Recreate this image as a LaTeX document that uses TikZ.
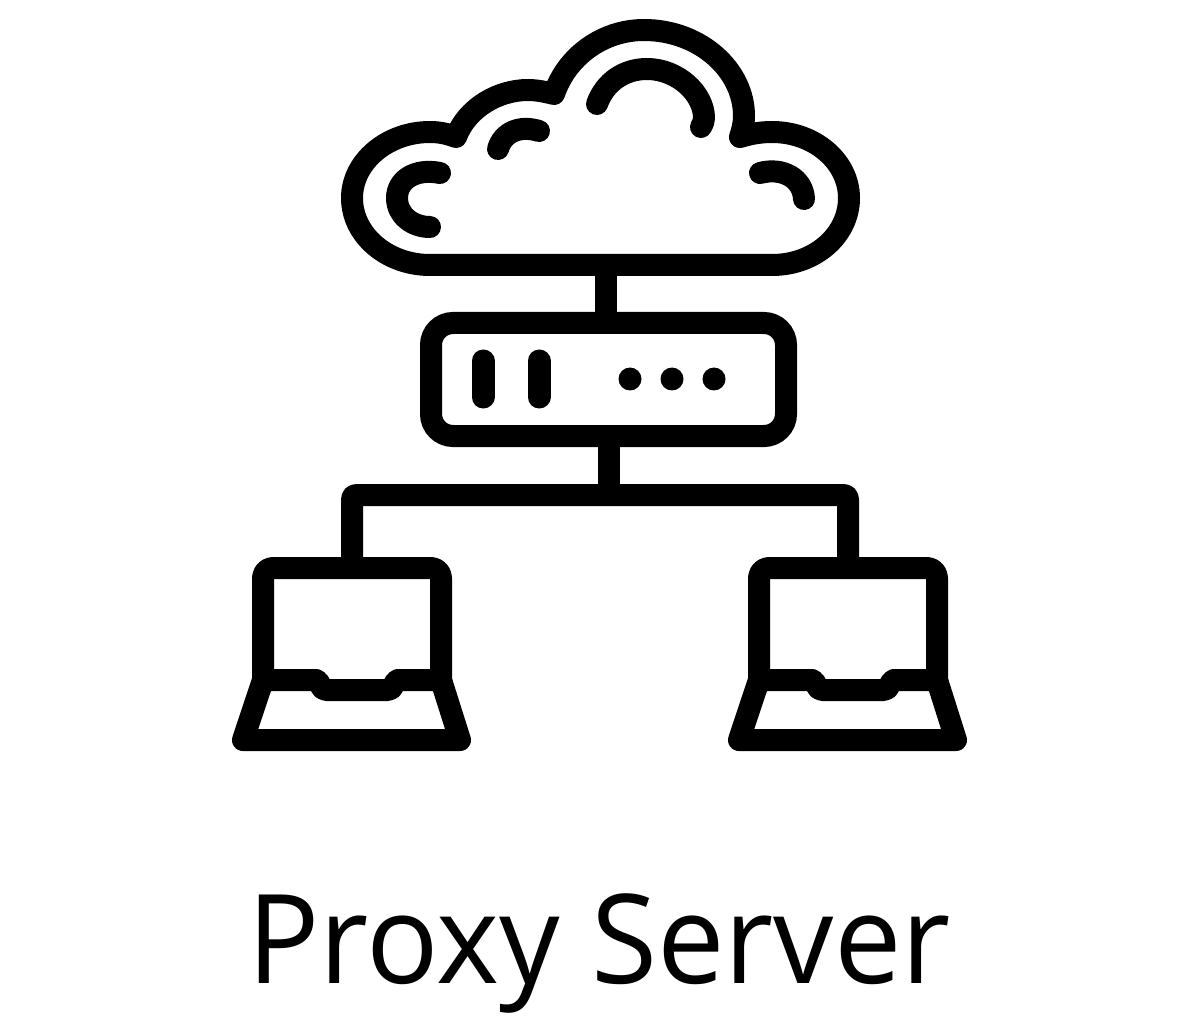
\documentclass[tikz,border=0pt]{standalone}
\usepackage{fontspec}
\setmainfont{Open Sans}
\tikzset{
  ink/.style={draw=black,line width=22pt,line cap=round,line join=round},
  wire/.style={draw=black,line width=22pt,line cap=butt},
  bar/.style={draw=black,line width=23pt,line cap=round},
  dot/.style={circle,fill=black,minimum size=23pt,inner sep=0pt,outer sep=0pt},
  serverbox/.style={draw=black,line width=22pt,rounded corners=22pt,minimum width=355pt,minimum height=113pt,inner sep=0pt,outer sep=0pt},
  title/.style={inner sep=0pt,font=\fontsize{124}{124}\selectfont,transform shape,xscale=0.97}
}
\newcommand{\laptop}[2]{%
  \begin{scope}[shift={(#1,0)}]
    \draw[ink,rounded corners=10pt] (263,680) -- (263,568) -- (441,568) -- (441,680);
    \draw[ink] (263,680) -- (243,740) -- (460,740) -- (441,680);
    \draw[ink] (263,680) -- (316,680) .. controls (320,680) and (320,690) .. (326,690) -- (388,690) .. controls (394,690) and (394,680) .. (398,680) -- (441,680);
    \coordinate (#2) at (352,568);
  \end{scope}}
\begin{document}
\begin{tikzpicture}[x=1pt,y=-1pt]
\path[use as bounding box] (0,0) rectangle (1200,1032);
% cloud
\draw[ink] (430,265)
  .. controls (387,265) and (352,235) .. (352,198)
  .. controls (352,162) and (387,132) .. (430,132)
  .. controls (440,132) and (448,134) .. (456,137)
  .. controls (467,108) and (498,90) .. (528,90)
  .. controls (537,90) and (546,92) .. (554,94)
  .. controls (567,56) and (603,30) .. (644,30)
  .. controls (700,30) and (744,70) .. (744,116)
  .. controls (744,124) and (742,131) .. (740,137)
  .. controls (750,134) and (760,132) .. (772,132)
  .. controls (815,132) and (849,162) .. (849,198)
  .. controls (849,235) and (815,265) .. (772,265)
  -- cycle;
% cloud highlights
\draw[ink] (440,173) .. controls (415,168) and (397,180) .. (397,198) .. controls (397,215) and (412,227) .. (430,227);
\draw[ink] (539,131) .. controls (520,125) and (503,132) .. (498,149);
\draw[ink] (597,104) .. controls (605,82) and (624,69) .. (647,69) .. controls (678,69) and (704,94) .. (704,118) .. controls (704,121) and (703,124) .. (701,127);
\draw[ink] (760,173) .. controls (782,167) and (803,178) .. (804,199);
\coordinate (cloudbase) at (606,265);
% server
\node[serverbox] (server) at (608.5,379.5) {};
\draw[bar] (483,361) -- (483,397);
\draw[bar] (539,361) -- (539,397);
\node[dot] (d1) at (630,379) {};
\node[dot] (d2) at (672,379) {};
\node[dot] (d3) at (714,379) {};
% laptops
\laptop{0}{lapA}
\laptop{496}{lapB}
% connectors
\coordinate (up) at (606,323);
\coordinate (down) at (609,436);
\coordinate (bus) at (609,495);
\draw[wire] (cloudbase) -- (up);
\draw[wire] (down) -- (bus);
\draw[ink,rounded corners=4pt,line cap=butt] (lapA) |- (bus) -| (lapB);
% caption
\node[title,anchor=base] (caption) at (599,983) {Proxy Server};
\end{tikzpicture}
\end{document}
